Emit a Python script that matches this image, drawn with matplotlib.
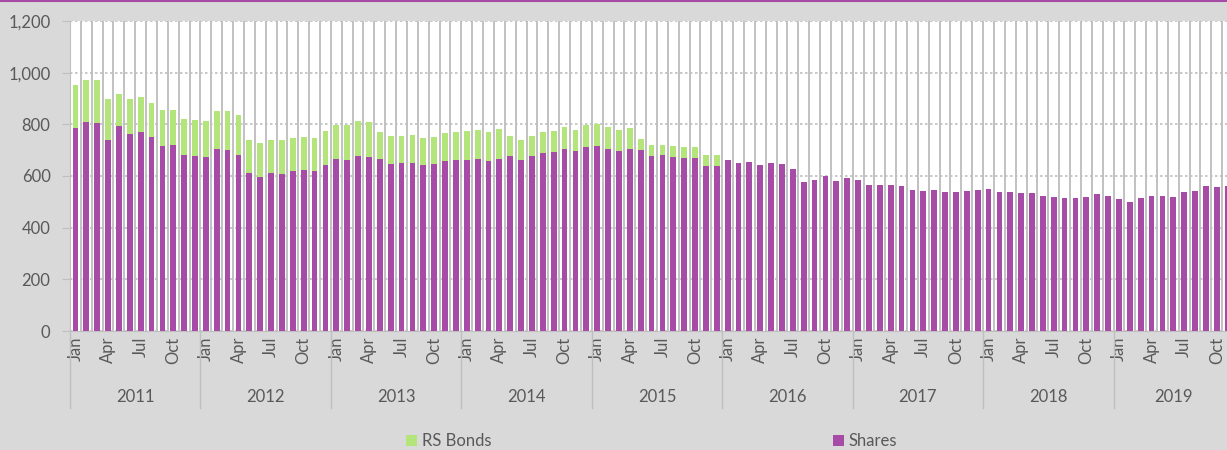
import numpy as np
import matplotlib.pyplot as plt
from matplotlib.lines import Line2D
import matplotlib.transforms as mtransforms

# ---------------- data ----------------
years = ['2011', '2012', '2013', '2014', '2015', '2016', '2017', '2018', '2019']
months_per_year = [12, 12, 12, 12, 12, 12, 12, 12, 11]
month_names = ['Jan', 'Feb', 'Mar', 'Apr', 'May', 'Jun',
               'Jul', 'Aug', 'Sep', 'Oct', 'Nov', 'Dec']
shown_months = ['Jan', 'Apr', 'Jul', 'Oct']

shares_2011 = [787, 810, 807, 741, 792, 763, 771, 750, 718, 721, 681, 676]
shares_2012 = [672, 703, 699, 683, 610, 598, 610, 607, 618, 625, 619, 641]
shares_2013 = [664, 663, 679, 674, 665, 647, 649, 651, 641, 645, 658, 662]
shares_2014 = [663, 667, 659, 667, 677, 662, 676, 690, 694, 705, 698, 713]
shares_2015 = [717, 705, 696, 705, 701, 678, 680, 673, 671, 671, 638, 640]
shares_2016 = [660, 649, 654, 641, 650, 646, 627, 575, 584, 601, 582, 592]
shares_2017 = [584, 564, 566, 566, 562, 544, 543, 544, 539, 540, 543, 547]
shares_2018 = [549, 538, 538, 536, 535, 522, 518, 516, 515, 518, 531, 521]
shares_2019 = [511, 500, 516, 521, 522, 517, 539, 542, 562, 558, 560]

bonds_2011 = [164, 162, 163, 158, 126, 136, 135, 133, 136, 134, 140, 140]
bonds_2012 = [142, 149, 151, 153, 128, 129, 130, 133, 130, 127, 130, 134]
bonds_2013 = [133, 134, 133, 135, 105, 109, 107, 107, 108, 107, 109, 110]
bonds_2014 = [113, 113, 113, 116, 79, 78, 80, 81, 82, 83, 81, 84]
bonds_2015 = [84, 84, 84, 82, 43, 42, 41, 43, 43, 42, 43, 42]
bonds_2016 = [0] * 12
bonds_2017 = [0] * 12
bonds_2018 = [0] * 12
bonds_2019 = [0] * 11

y_ticks = [0, 200, 400, 600, 800, 1000, 1200]

shares = np.array(shares_2011 + shares_2012 + shares_2013 + shares_2014 + shares_2015
                  + shares_2016 + shares_2017 + shares_2018 + shares_2019)
bonds = np.array(bonds_2011 + bonds_2012 + bonds_2013 + bonds_2014 + bonds_2015
                 + bonds_2016 + bonds_2017 + bonds_2018 + bonds_2019)

# ---------------- style ----------------
purple = '#a64ca6'
green = '#b4e57a'
grid_grey = '#bfbfbf'
text_grey = '#595959'
fs = 12
plt.rcParams['font.family'] = ['Lato', 'DejaVu Sans']

n = len(shares)
x = np.arange(n)

fig = plt.figure(figsize=(12.27, 4.5), dpi=100)
fig.patch.set_facecolor('#d9d9d9')

# plot area runs past the right edge of the picture (cropped like the original)
ax = fig.add_axes([70 / 1227, 119 / 450, 107 * 10.87 / 1227, 310 / 450])
ax.set_facecolor('white')

b_shares = ax.bar(x, shares, width=0.53, color=purple, zorder=3, label='Shares')
b_bonds = ax.bar(x, bonds, bottom=shares, width=0.53, color=green, zorder=3, label='RS Bonds')

ax.set_xlim(-0.5, n - 0.5)
ax.set_ylim(0, 1200)

# y axis
ax.set_yticks(y_ticks)
ax.set_yticklabels([f'{v:,}' for v in y_ticks])
ax.tick_params(axis='y', length=6, color=grid_grey, labelcolor=text_grey, labelsize=fs, pad=8)
ax.yaxis.grid(True, linestyle=(0, (1.5, 1.5)), color=grid_grey, lw=1.2, zorder=0)

# x axis: month labels + separators between every month
tick_pos = []
tick_lab = []
year_starts = []
start = 0
for yr, cnt in zip(years, months_per_year):
    year_starts.append(start)
    for m in range(cnt):
        if month_names[m] in shown_months:
            tick_pos.append(start + m)
            tick_lab.append(month_names[m])
    start += cnt

ax.set_xticks(tick_pos)
ax.set_xticklabels(tick_lab, rotation=90, va='top')
ax.tick_params(axis='x', which='major', length=0, labelcolor=text_grey, labelsize=fs, pad=4)
ax.set_xticks(np.arange(-0.5, n, 1), minor=True)
ax.tick_params(axis='x', which='minor', length=0)
ax.xaxis.grid(True, which='minor', color='#bcbcbc', lw=1.3, zorder=1)
ax.xaxis.grid(False, which='major')

for s in ['top', 'right']:
    ax.spines[s].set_visible(False)
ax.spines['left'].set_color(grid_grey)
ax.spines['bottom'].set_color(grid_grey)

# year labels and group separators
trans = mtransforms.blended_transform_factory(ax.transData, ax.transAxes)
for yr, st, cnt in zip(years, year_starts, months_per_year):
    ax.text(st + cnt / 2 - 0.5, -0.213, yr, transform=trans, ha='center', va='center',
            color=text_grey, fontsize=fs)
    ax.add_line(Line2D([st - 0.5, st - 0.5], [0, -0.248], transform=trans,
                       color=grid_grey, lw=1, clip_on=False))

# legend
ax.legend(handles=[b_bonds, b_shares], loc='center', bbox_to_anchor=(0.5, -0.355),
          ncol=2, frameon=False, columnspacing=20.5, handlelength=0.65, handleheight=0.65,
          handletextpad=0.3, labelcolor=text_grey, fontsize=fs)

# purple line along the top edge
fig.add_artist(Line2D([0, 1], [0.998, 0.998], transform=fig.transFigure, color=purple, lw=1.5))

fig.savefig('out.png', dpi=100, facecolor=fig.get_facecolor())
